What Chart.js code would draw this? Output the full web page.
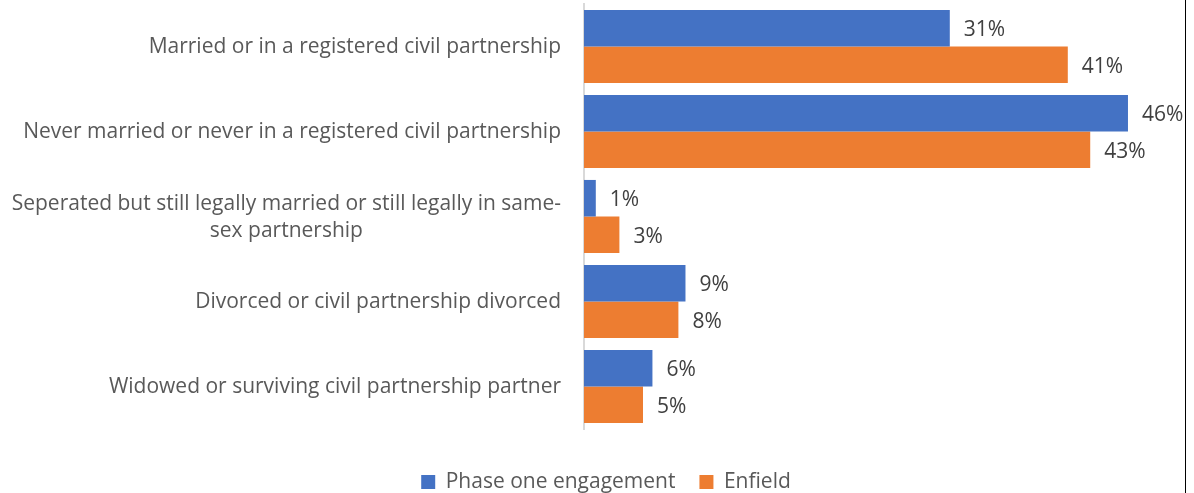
<!DOCTYPE html>
<html>
<head>
<meta charset="utf-8">
<script src="https://cdn.jsdelivr.net/npm/chart.js@4.4.1/dist/chart.umd.min.js"></script>
<style>
  html, body { margin: 0; padding: 0; background: #fff; }
  .wrap { width: 1185px; height: 493px; border-right: 1px solid #000; position: relative; }
</style>
</head>
<body>
<div class="wrap"><canvas id="chart"></canvas></div>
<script>
// chart data
const categories = [
  'Married or in a registered civil partnership',
  'Never married or never in a registered civil partnership',
  ['Seperated but still legally married or still legally in same-', 'sex partnership'],
  'Divorced or civil partnership divorced',
  'Widowed or surviving civil partnership partner'
];
const seriesNames = ['Phase one engagement', 'Enfield'];
const phaseOne = [31, 46.1, 1, 8.6, 5.8];
const enfield = [41, 42.9, 3, 8, 5];
const xMax = 50;

const FONT = '"Open Sans", sans-serif';
const LABEL_COLOR = '#595959';

// category labels: right aligned, wrapped lines centred on the widest one
const catLabels = {
  id: 'catLabels',
  afterDraw(chart) {
    const { ctx, scales: { y } } = chart;
    ctx.save();
    ctx.font = '21px ' + FONT;
    ctx.fillStyle = LABEL_COLOR;
    ctx.textBaseline = 'middle';
    const right = 561;
    const lh = 27;
    categories.forEach((c, i) => {
      const lines = Array.isArray(c) ? c : [c];
      const cy = y.getPixelForValue(i) + 1;
      const widest = Math.max(...lines.map(l => ctx.measureText(l).width));
      const mid = right - widest / 2;
      lines.forEach((l, k) => {
        const ly = cy + (k - (lines.length - 1) / 2) * lh;
        if (lines.length > 1) { ctx.textAlign = 'center'; ctx.fillText(l, mid, ly); }
        else { ctx.textAlign = 'right'; ctx.fillText(l, right, ly); }
      });
    });
    ctx.restore();
  }
};

// value labels at bar ends
const valueLabels = {
  id: 'valueLabels',
  afterDatasetsDraw(chart) {
    const { ctx } = chart;
    ctx.save();
    ctx.font = '21px ' + FONT;
    ctx.fillStyle = '#404040';
    ctx.textAlign = 'left';
    ctx.textBaseline = 'middle';
    chart.data.datasets.forEach((ds, di) => {
      chart.getDatasetMeta(di).data.forEach((bar, i) => {
        ctx.fillText(Math.round(ds.data[i]) + '%', bar.x + 14, bar.y + 2);
      });
    });
    ctx.restore();
  }
};

new Chart(document.getElementById('chart'), {
  type: 'bar',
  data: {
    labels: categories,
    datasets: [
      { label: seriesNames[0], data: phaseOne, backgroundColor: '#4472C4' },
      { label: seriesNames[1], data: enfield, backgroundColor: '#ED7D31' }
    ]
  },
  options: {
    indexAxis: 'y',
    responsive: true,
    maintainAspectRatio: false,
    animation: false,
    layout: { padding: { top: 4, right: 11, left: 38, bottom: 0 } },
    datasets: { bar: { categoryPercentage: 0.86, barPercentage: 1, borderWidth: 0 } },
    scales: {
      x: {
        min: 0, max: xMax,
        grid: { display: false },
        border: { display: false },
        ticks: { display: false },
        afterFit: s => { s.height = 18.5; }
      },
      y: {
        grid: { display: false, drawTicks: false },
        border: { display: true, color: '#d9d9d9', width: 2 },
        ticks: { display: false },
        afterFit: s => { s.width = 546; }
      }
    },
    plugins: {
      legend: {
        position: 'bottom',
        maxHeight: 45.5,
        labels: {
          boxWidth: 14, boxHeight: 14, padding: 24,
          color: LABEL_COLOR,
          font: { family: FONT, size: 21 }
        }
      },
      tooltip: { enabled: false }
    }
  },
  plugins: [catLabels, valueLabels]
});
</script>
</body>
</html>
